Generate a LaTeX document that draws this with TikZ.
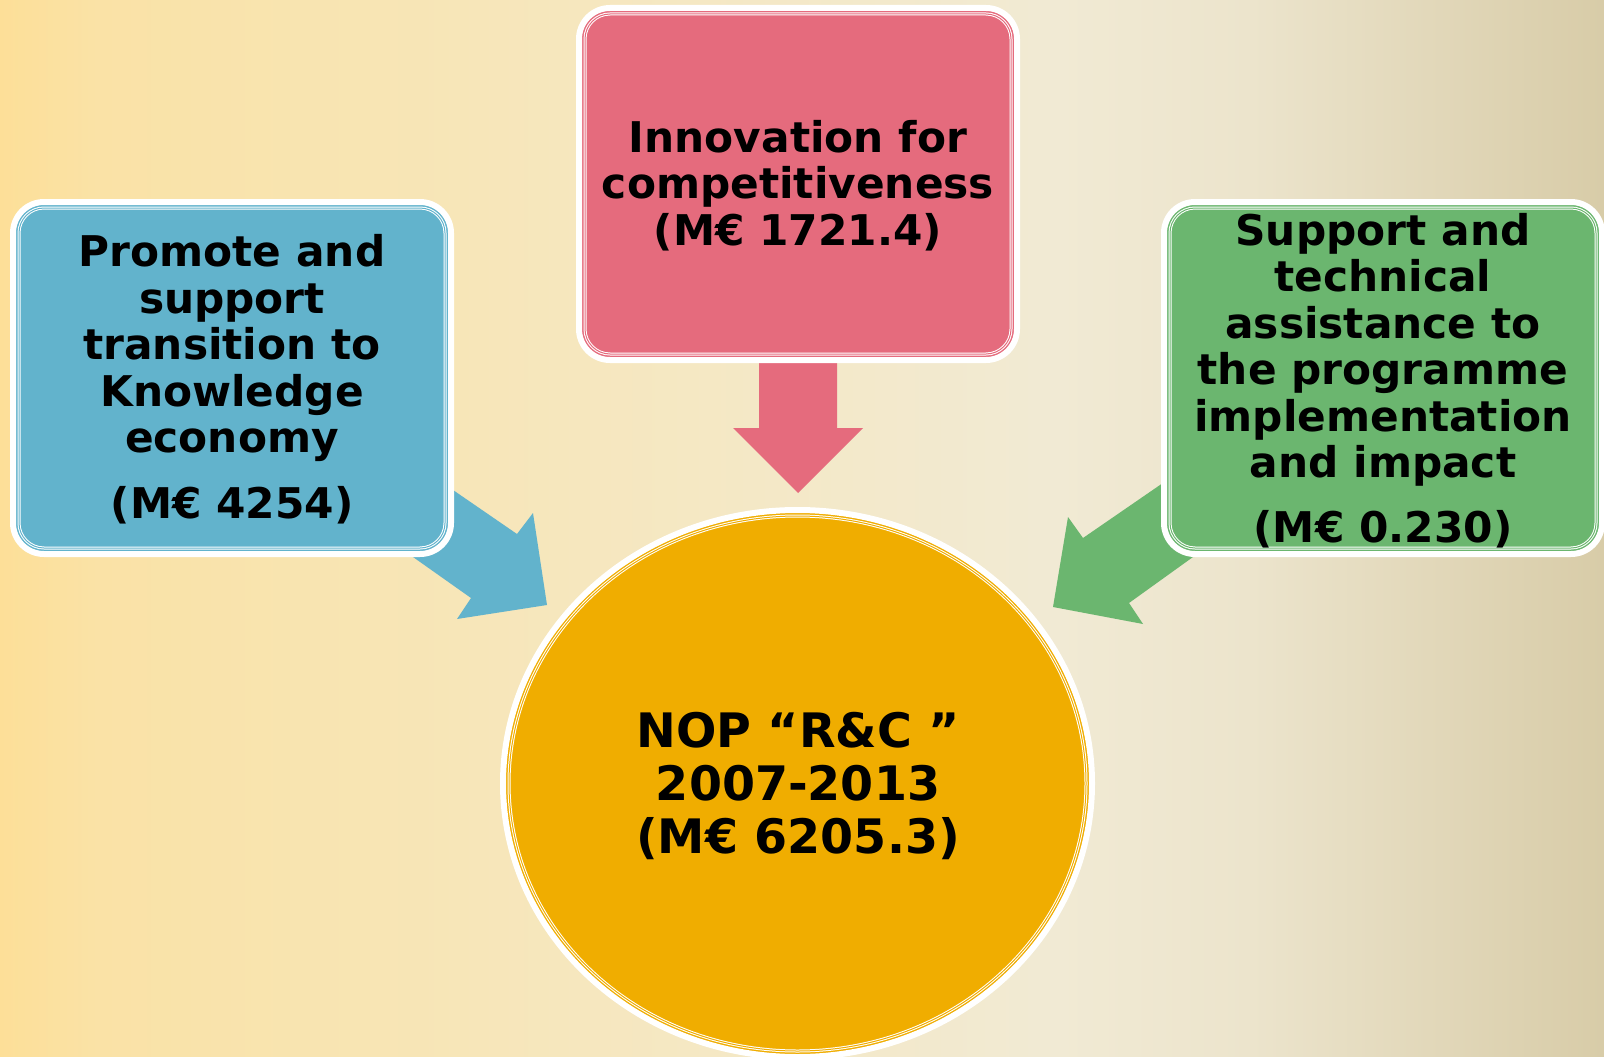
\documentclass[tikz,border=0pt]{standalone}
\usepackage{fontspec}
\setmainfont{DejaVu Sans}
\usetikzlibrary{shapes.geometric}
\definecolor{cblue}{RGB}{98,179,204}
\definecolor{cpink}{RGB}{229,107,125}
\definecolor{cgreen}{RGB}{107,182,111}
\definecolor{corange}{RGB}{240,173,0}
\pgfdeclarehorizontalshading{bgshade}{100bp}{rgb(0bp)=(0.992,0.875,0.596); rgb(25bp)=(0.992,0.875,0.596); rgb(28bp)=(0.980,0.886,0.650); rgb(43bp)=(0.965,0.906,0.745); rgb(58bp)=(0.945,0.918,0.831); rgb(64bp)=(0.925,0.894,0.800); rgb(75bp)=(0.847,0.800,0.659); rgb(100bp)=(0.847,0.800,0.659)}
\tikzset{
  boxshape/.style={rectangle, rounded corners=31pt, draw=white, line width=6pt,
    minimum width=438pt, minimum height=352pt, inner sep=0pt, outer sep=0pt},
  innerline/.style={draw=white, line width=1pt, double distance=1pt},
  boxtext/.style={align=center, inner sep=0pt, anchor=base,
    font=\fontsize{42.3}{46.5}\selectfont\bfseries},
  circtext/.style={align=center, inner sep=0pt, anchor=base,
    font=\fontsize{47.5}{53}\selectfont\bfseries}
}
\begin{document}
\begin{tikzpicture}[x=1pt,y=-1pt]
\useasboundingbox (0,0) rectangle (1604,1057);
\fill[shading=bgshade] (0,0) rectangle (1604,1057);

% block arrows (behind the shapes)
\fill[cblue] (389,446) -- (517,534) -- (533,513) -- (547,605) -- (457,619) -- (471,598) -- (355,516) -- cycle;
\fill[cgreen] (1237,432) -- (1083,538) -- (1068,517) -- (1053,607) -- (1143,624) -- (1129,603) -- (1257,511) -- cycle;
\fill[cpink] (759,340) -- (759,428) -- (733,428) -- (798,493) -- (863,428) -- (837,428) -- (837,340) -- cycle;

% boxes
\node[boxshape, fill=cblue] (promote) at (232,378) {};
\draw[innerline, double=cblue, rounded corners=25pt]
  ([shift={(6,6)}]promote.north west) rectangle ([shift={(-6,-6)}]promote.south east);
\node[boxshape, fill=cpink] (innov) at (798,184) {};
\draw[innerline, double=cpink, rounded corners=25pt]
  ([shift={(6,6)}]innov.north west) rectangle ([shift={(-6,-6)}]innov.south east);
\node[boxshape, fill=cgreen] (support) at (1383,378) {};
\draw[innerline, double=cgreen, rounded corners=25pt]
  ([shift={(6,6)}]support.north west) rectangle ([shift={(-6,-6)}]support.south east);

% central ellipse
\node[ellipse, draw=white, line width=6pt, fill=corange, minimum width=589pt,
  minimum height=547pt, inner sep=0pt, outer sep=0pt] (nop) at (797.5,783.5) {};
\draw[innerline, double=corange] (nop.center) ellipse [x radius=288.5, y radius=267.5];

% texts
\node[boxtext] (promotetxt) at (232,518)
  {Promote and\\support\\transition to\\Knowledge\\economy\\[19pt](M€ 4254)};
\node[boxtext] (innovtxt) at (798,245)
  {Innovation for\\competitiveness\\(M€ 1721.4)};
\node[boxtext] (supporttxt) at (1383,542)
  {Support and\\technical\\assistance to\\the programme\\implementation\\and impact\\[18pt](M€ 0.230)};
\node[circtext] (noptxt) at (798,853)
  {NOP “R\&C ”\\2007-2013\\(M€ 6205.3)};
\end{tikzpicture}
\end{document}
